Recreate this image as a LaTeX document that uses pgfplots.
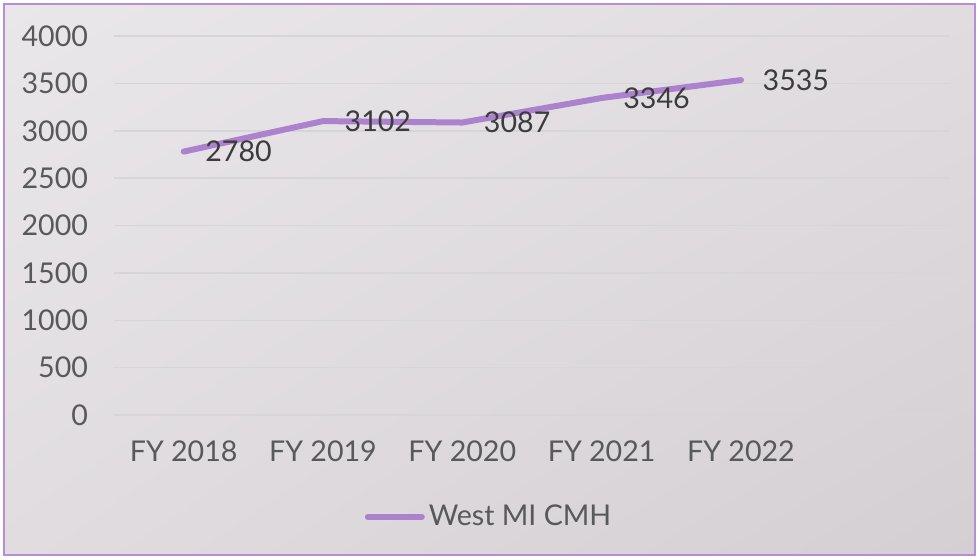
\documentclass[border=0pt]{standalone}
\usepackage{pgfplots}
\pgfplotsset{compat=1.18}
\usetikzlibrary{shadings}
\usepackage{fontspec}
\setmainfont{Lato}
\definecolor{lineP}{RGB}{172,130,206}
\definecolor{frameP}{RGB}{182,142,216}
\definecolor{bgA}{RGB}{234,231,234}
\definecolor{bgM}{RGB}{224,220,224}
\definecolor{bgB}{RGB}{211,207,211}
\definecolor{gridc}{RGB}{216,213,216}
\definecolor{tickc}{RGB}{89,89,89}
\definecolor{labc}{RGB}{60,60,60}
\begin{document}
\begin{tikzpicture}
% 1px = 0.5pt, origin at plot-area lower-left (px 114,415)
\useasboundingbox (-57pt,-72pt) rectangle (432.5pt,207.5pt);
\fill[white] (-57pt,-72pt) rectangle (432.5pt,207.5pt);
\shade[upper left=bgA, upper right=bgM, lower left=bgM, lower right=bgB]
  (-55pt,-70pt) rectangle (430.5pt,205.5pt);
\draw[frameP, line width=1pt] (-55pt,-70pt) rectangle (430.5pt,205.5pt);
\begin{axis}[
  at={(0pt,0pt)}, anchor=south west,
  scale only axis, width=418pt, height=189.5pt,
  xmin=-0.5, xmax=5.5, ymin=0, ymax=4000,
  xtick={0,1,2,3,4},
  xticklabels={FY 2018,FY 2019,FY 2020,FY 2021,FY 2022},
  ytick={0,500,...,4000},
  axis line style={draw=none},
  major tick length=0pt,
  ymajorgrids, xmajorgrids=false,
  grid style={gridc, line width=0.75pt},
  /pgf/number format/assume math mode=true,
  /pgf/number format/1000 sep={},
  tick label style={font=\fontsize{14.3}{17}\selectfont, text=tickc},
  yticklabel style={xshift=-9.5pt},
  xticklabel style={yshift=-9.5pt},
  legend style={at={(0.4498,-0.269)}, anchor=center, draw=none, fill=none,
    font=\fontsize{14.3}{17}\selectfont, text=tickc, inner sep=0pt,
    /tikz/every even column/.append style={column sep=0pt}},
  legend cell align=left,
  legend image code/.code={\draw[#1, line width=3pt, line cap=round] (0pt,0pt) -- (27pt,0pt);},
  nodes near coords,
  nodes near coords style={anchor=west, xshift=6pt, font=\fontsize{14.3}{17}\selectfont, text=labc},
  clip=false,
]
\addplot[lineP, line width=3pt, line cap=round, line join=round, mark=none] coordinates {
  (0,2780) (1,3102) (2,3087) (3,3346) (4,3535)
};
\addlegendentry{West MI CMH}
\end{axis}
\end{tikzpicture}
\end{document}
